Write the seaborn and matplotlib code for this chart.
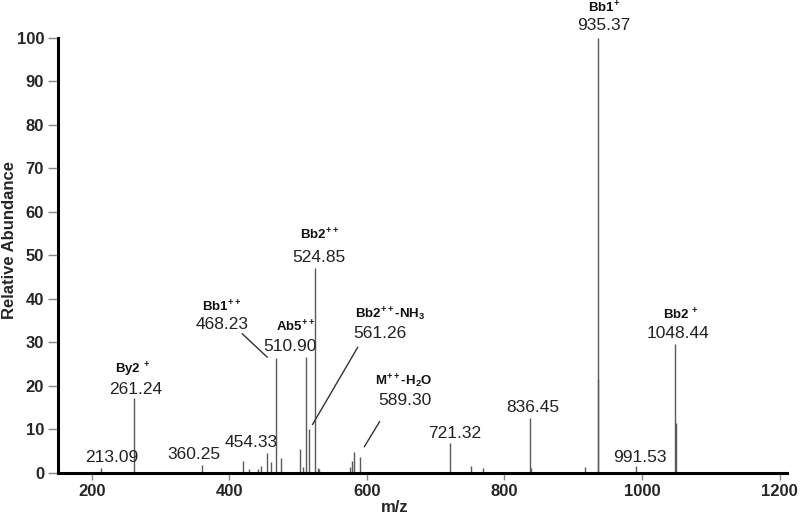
import matplotlib
matplotlib.use("Agg")
import matplotlib.pyplot as plt
import seaborn as sns

# peak list (m/z, relative abundance)
mz = [213.09, 261.24, 360.25, 419.5, 428.0, 442.0, 446.0, 454.33, 460.0,
      468.23, 475.5, 502.8, 506.7, 510.90, 516.35, 524.85, 528.5, 531.0,
      576.0, 579.0, 581.5, 589.30, 721.32, 752.0, 769.0, 836.45, 838.5,
      917.0, 935.37, 936.37, 991.53, 1048.44, 1049.44]
abundance = [1.0, 17.1, 1.8, 2.8, 0.8, 0.9, 1.5, 4.6, 2.5,
             26.4, 3.3, 5.4, 1.2, 26.5, 10.0, 47.0, 1.0, 0.8,
             1.3, 2.8, 4.8, 3.7, 6.8, 1.5, 1.0, 12.5, 1.0,
             1.2, 100.0, 21.5, 1.5, 29.5, 11.4]

# value labels (text, m/z, height)
num_labels = ["213.09", "261.24", "360.25", "454.33", "468.23", "510.90",
              "524.85", "561.26", "589.30", "721.32", "836.45", "991.53",
              "935.37", "1048.44"]
num_x = [229.5, 264.4, 348.8, 431.7, 389.0, 488.4, 530.6, 619.3, 655.7,
         727.0, 841.8, 997.4, 945.0, 1052.7]
num_y = [3.4, 19.2, 4.1, 6.9, 34.0, 28.9, 49.4, 32.1, 16.6, 9.1, 14.9, 3.6,
         102.7, 32.1]

# ion names
ion_labels = ["By2 $^{+}$", "Bb1$^{++}$", "Ab5$^{++}$", "Bb2$^{++}$",
              "Bb2$^{++}$-NH$_3$", "M$^{++}$-H$_2$O", "Bb1$^{+}$", "Bb2 $^{+}$"]
ion_x = [260.0, 389.5, 497.0, 532.0, 633.8, 652.7, 945.0, 1057.0]
ion_y = [23.6, 38.0, 33.5, 54.6, 36.4, 21.0, 106.8, 36.3]

# leader lines: peak index, text end point
lead_peak = [9, 14, 21]
lead_from = [(415.7, 32.4), (588.8, 29.4), (620.7, 12.3)]
lead_shift = [(-10.0, -0.3), (2.5, 0.5), (4.8, 1.7)]

sns.set_theme(style="ticks")
plt.rcParams["font.family"] = ["Liberation Sans", "DejaVu Sans"]
plt.rcParams["mathtext.fontset"] = "custom"
plt.rcParams["mathtext.rm"] = "Liberation Sans"
plt.rcParams["mathtext.bf"] = "Liberation Sans:bold"
plt.rcParams["mathtext.default"] = "bf"

fig, ax = plt.subplots(figsize=(8, 5.2), dpi=100)
fig.subplots_adjust(left=0.0725, right=0.984, bottom=0.091, top=0.9275)

ax.vlines(mz, 0, abundance, color="#5a5a5a", lw=1.0)

for t, x, y in zip(num_labels, num_x, num_y):
    ax.text(x, y, t, ha="center", va="center", fontsize=12.5,
            color="#222222", clip_on=False)

for t, x, y in zip(ion_labels, ion_x, ion_y):
    ax.text(x, y, t, ha="center", va="center", fontsize=9.5,
            fontweight="bold", color="#111111", clip_on=False)

for i, start, sh in zip(lead_peak, lead_from, lead_shift):
    ax.annotate("", xy=(mz[i] + sh[0], abundance[i] + sh[1]), xytext=start,
                arrowprops=dict(arrowstyle="-", color="#333333", lw=1.0))

ax.set_xlim(151, 1211)
ax.set_ylim(0, 100)
ax.set_xticks([200, 400, 600, 800, 1000, 1200])
ax.set_yticks(range(0, 101, 10))

sns.despine(ax=ax)
for s in ["left", "bottom"]:
    ax.spines[s].set_linewidth(2.2)
    ax.spines[s].set_color("black")

ax.tick_params(axis="y", length=7, width=1, color="#888888", pad=3,
               labelsize=12)
ax.tick_params(axis="x", length=5, width=1, color="#888888", pad=3,
               labelsize=12)
for lab in ax.get_xticklabels() + ax.get_yticklabels():
    lab.set_fontweight("bold")

ax.set_xlabel("m/z", fontsize=12, fontweight="bold")
ax.xaxis.set_label_coords(0.462, -0.062)
fig.text(10 / 800, 1 - 240 / 520, "Relative Abundance", rotation=90,
         ha="center", va="center", fontsize=12, fontweight="bold")

plt.savefig("out.png", dpi=100)
